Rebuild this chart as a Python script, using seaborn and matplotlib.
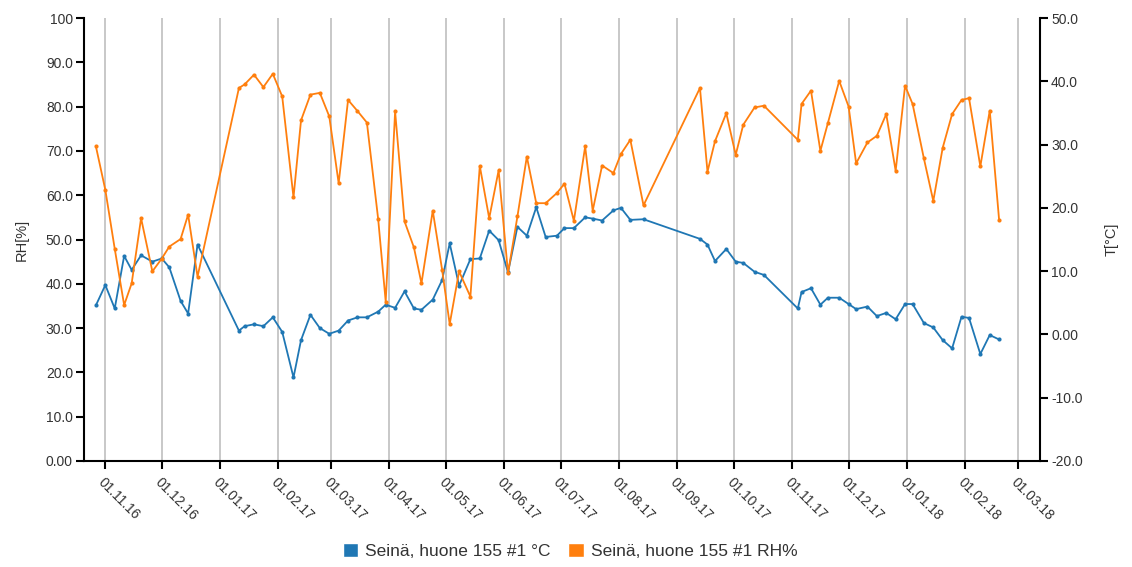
import matplotlib
matplotlib.use("Agg")
import matplotlib.pyplot as plt
from matplotlib.patches import Patch
import pandas as pd
import seaborn as sns

# Measurement dates (shared by both series)
dates = [
    "2016-10-27", "2016-11-01", "2016-11-06", "2016-11-11", "2016-11-15", "2016-11-20",
    "2016-11-26", "2016-12-01", "2016-12-05", "2016-12-11", "2016-12-15", "2016-12-20",
    "2017-01-11", "2017-01-14", "2017-01-19", "2017-01-24", "2017-01-29", "2017-02-03",
    "2017-02-09", "2017-02-13", "2017-02-18", "2017-02-23", "2017-02-28", "2017-03-05",
    "2017-03-10", "2017-03-15", "2017-03-20", "2017-03-26", "2017-03-30", "2017-04-04",
    "2017-04-09", "2017-04-14", "2017-04-18", "2017-04-24", "2017-04-29", "2017-05-03",
    "2017-05-08", "2017-05-14", "2017-05-19", "2017-05-24", "2017-05-29", "2017-06-03",
    "2017-06-08", "2017-06-13", "2017-06-18", "2017-06-23", "2017-06-29", "2017-07-03",
    "2017-07-08", "2017-07-14", "2017-07-18", "2017-07-23", "2017-07-29", "2017-08-02",
    "2017-08-07", "2017-08-14", "2017-09-13", "2017-09-17", "2017-09-21", "2017-09-27",
    "2017-10-02", "2017-10-06", "2017-10-12", "2017-10-17", "2017-11-04", "2017-11-06",
    "2017-11-11", "2017-11-16", "2017-11-20", "2017-11-26", "2017-12-01", "2017-12-05",
    "2017-12-11", "2017-12-16", "2017-12-21", "2017-12-26", "2017-12-31", "2018-01-04",
    "2018-01-10", "2018-01-15", "2018-01-20", "2018-01-25", "2018-01-30", "2018-02-03",
    "2018-02-09", "2018-02-14", "2018-02-19",
]

# Wall temperature, °C
temp_c = [
    4.6, 7.8, 4.1, 12.4, 10.2, 12.5, 11.5, 12.0, 10.6, 5.3, 3.3, 14.2,
    0.6, 1.3, 1.6, 1.3, 2.7, 0.4, -6.8, -0.9, 3.1, 1.0, 0.1, 0.6,
    2.2, 2.7, 2.7, 3.6, 4.7, 4.2, 6.8, 4.1, 3.9, 5.5, 8.6, 14.4,
    7.7, 11.9, 12.0, 16.4, 14.9, 9.8, 17.0, 15.6, 20.1, 15.4, 15.6, 16.8,
    16.8, 18.5, 18.3, 18.0, 19.6, 20.0, 18.1, 18.2, 15.1, 14.2, 11.6, 13.5,
    11.5, 11.3, 9.9, 9.4, 4.1, 6.7, 7.3, 4.7, 5.8, 5.8, 4.8, 4.0,
    4.4, 2.9, 3.4, 2.4, 4.8, 4.8, 1.8, 1.1, -0.9, -2.2, 2.8, 2.6,
    -3.1, -0.1, -0.8,
]

# Wall relative humidity, %
rh_pct = [
    71.0, 61.2, 47.9, 35.2, 40.1, 54.8, 42.8, 45.7, 48.4, 50.1, 55.6, 41.6,
    84.2, 85.0, 87.2, 84.4, 87.4, 82.3, 59.5, 76.9, 82.7, 83.1, 77.8, 62.7,
    81.5, 79.0, 76.4, 54.6, 36.0, 78.9, 54.1, 48.2, 40.1, 56.5, 43.1, 30.9,
    42.8, 37.1, 66.6, 54.8, 65.6, 42.4, 55.2, 68.7, 58.2, 58.2, 60.5, 62.6,
    54.2, 71.0, 56.5, 66.7, 65.0, 69.3, 72.5, 57.7, 84.2, 65.3, 72.2, 78.5,
    69.1, 75.9, 79.8, 80.2, 72.5, 80.6, 83.6, 70.0, 76.3, 85.8, 80.0, 67.2,
    71.9, 73.4, 78.3, 65.5, 84.7, 80.6, 68.3, 58.7, 70.7, 78.3, 81.5, 81.9,
    66.5, 79.1, 54.3,
]

series_labels = ["Seinä, huone 155 #1 °C", "Seinä, huone 155 #1 RH%"]

rh_ticks = [0, 10, 20, 30, 40, 50, 60, 70, 80, 90, 100]
rh_tick_labels = ["0.00", "10.0", "20.0", "30.0", "40.0", "50.0",
                  "60.0", "70.0", "80.0", "90.0", "100"]
t_ticks = [-20, -10, 0, 10, 20, 30, 40, 50]
t_tick_labels = ["-20.0", "-10.0", "0.00", "10.0", "20.0", "30.0", "40.0", "50.0"]

month_ticks = pd.date_range("2016-11-01", "2018-03-01", freq="MS")

BLUE = "#1f77b4"
ORANGE = "#ff7f0e"
TEXT = "#333333"

sns.set_theme(style="white")
plt.rcParams["font.family"] = ["Liberation Sans", "DejaVu Sans"]

df = pd.DataFrame({"date": pd.to_datetime(dates), "T": temp_c, "RH": rh_pct})

fig = plt.figure(figsize=(11.32, 5.67), dpi=100)
ax = fig.add_axes([84 / 1132, 1 - 461 / 567, (1040 - 84) / 1132, (461 - 18) / 567])
ax2 = ax.twinx()
# humidity axis drawn above the temperature axis
ax.set_zorder(ax2.get_zorder() + 1)
ax.patch.set_visible(False)

# month gridlines behind everything
for m in month_ticks:
    ax2.axvline(m, color="#c4c4c4", linewidth=1.3, zorder=0)

sns.lineplot(data=df, x="date", y="T", ax=ax2, color=BLUE, linewidth=1.3,
             marker="o", markersize=3, markeredgewidth=0, zorder=3)
sns.lineplot(data=df, x="date", y="RH", ax=ax, color=ORANGE, linewidth=1.3,
             marker="o", markersize=3, markeredgewidth=0, zorder=3)

ax.set_xlim(pd.Timestamp("2016-10-20 16:00"), pd.Timestamp("2018-03-12 17:00"))
ax.set_ylim(0, 100)
ax2.set_ylim(-20, 50)

ax.set_yticks(rh_ticks)
ax.set_yticklabels(rh_tick_labels)
ax2.set_yticks(t_ticks)
ax2.set_yticklabels(t_tick_labels)

ax.set_xticks(month_ticks)
ax.set_xticklabels([d.strftime("%d.%m.%y") for d in month_ticks],
                   rotation=-45, ha="left", va="top", rotation_mode="anchor")

for s in ["top", "right"]:
    ax.spines[s].set_visible(False)
for s in ["left", "bottom"]:
    ax.spines[s].set_color("black")
    ax.spines[s].set_linewidth(1.5)
for s in ["top", "left", "bottom"]:
    ax2.spines[s].set_visible(False)
ax2.spines["right"].set_color("black")
ax2.spines["right"].set_linewidth(1.5)

ax.tick_params(axis="y", left=True, direction="out", length=6, width=1.5,
               color="black", labelsize=10, labelcolor=TEXT, pad=2)
ax.tick_params(axis="x", bottom=True, direction="out", length=6, width=1.5,
               color="black", labelsize=10, labelcolor=TEXT, pad=4)
ax2.tick_params(axis="y", right=True, direction="out", length=6, width=1.5,
                color="black", labelsize=10, labelcolor=TEXT, pad=2)

ax.set_xlabel("")
ax.set_ylabel("RH[%]", fontsize=10.5, color=TEXT, labelpad=12)
ax2.set_ylabel("T[°C]", fontsize=10.5, color=TEXT, labelpad=16)
ax.grid(False)
ax2.grid(False)

handles = [Patch(facecolor=BLUE, label=series_labels[0]),
           Patch(facecolor=ORANGE, label=series_labels[1])]
fig.legend(handles=handles, loc="center", bbox_to_anchor=(570 / 1132, 1 - 551 / 567),
           ncol=2, frameon=False, fontsize=12.5, handlelength=0.9, handleheight=0.9,
           handletextpad=0.4, columnspacing=1.0, labelcolor=TEXT)

fig.savefig("out.png", dpi=100)
